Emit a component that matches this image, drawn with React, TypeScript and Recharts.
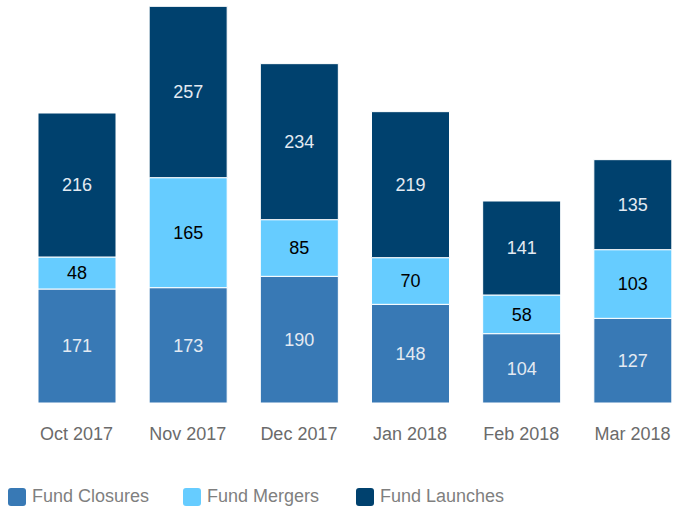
import React from "react";
import { BarChart, Bar, XAxis, YAxis, LabelList, Legend } from "recharts";

const categories = ["Oct 2017", "Nov 2017", "Dec 2017", "Jan 2018", "Feb 2018", "Mar 2018"];
const closures = [171, 173, 190, 148, 104, 127];
const mergers = [48, 165, 85, 70, 58, 103];
const launches = [216, 257, 234, 219, 141, 135];

const seriesNames = ["Fund Closures", "Fund Mergers", "Fund Launches"];
const colors = ["#3879b5", "#66ccff", "#00416e"];

const data = categories.map((c, i) => ({
  name: c,
  closures: closures[i],
  mergers: mergers[i],
  launches: launches[i],
}));

const FONT = "Liberation Sans, Arial, sans-serif";

const renderLegend = () => {
  const lefts = [8, 183, 356];
  return (
    <div style={{ position: "relative", height: 24, width: 675 }}>
      {seriesNames.map((n, i) => (
        <div key={n} style={{ position: "absolute", left: lefts[i], top: 0, display: "flex", alignItems: "center" }}>
          <div style={{ width: 18, height: 18, borderRadius: 3, background: colors[i], marginRight: 6 }} />
          <span style={{ fontFamily: FONT, fontSize: 18, color: "#7f7f7f" }}>{n}</span>
        </div>
      ))}
    </div>
  );
};

export default function App() {
  return (
    <div style={{ position: "absolute", left: 0, top: 0, width: 675, height: 512, overflow: "hidden", background: "#fff" }}>
      <BarChart
        width={690}
        height={512}
        data={data}
        margin={{ top: 3, right: 2, bottom: 55, left: 21 }}
        barSize={78}
      >
        <XAxis
          dataKey="name"
          axisLine={false}
          tickLine={false}
          height={30}
          tick={{ fill: "#6b6b6b", fontSize: 18, fontFamily: FONT }}
          tickMargin={18}
        />
        <YAxis hide domain={[0, 600]} />
        <Legend
          content={renderLegend}
          wrapperStyle={{ position: "absolute", left: 0, top: 486, width: 675 }}
        />
        <Bar dataKey="closures" stackId="a" fill={colors[0]} stroke="#ffffff" strokeWidth={1} isAnimationActive={false}>
          <LabelList dataKey="closures" position="center" fill="#e3eaf2" fontSize={18} fontFamily={FONT} />
        </Bar>
        <Bar dataKey="mergers" stackId="a" fill={colors[1]} stroke="#ffffff" strokeWidth={1} isAnimationActive={false}>
          <LabelList dataKey="mergers" position="center" fill="#000000" fontSize={18} fontFamily={FONT} />
        </Bar>
        <Bar dataKey="launches" stackId="a" fill={colors[2]} stroke="#ffffff" strokeWidth={1} isAnimationActive={false}>
          <LabelList dataKey="launches" position="center" fill="#e3eaf2" fontSize={18} fontFamily={FONT} />
        </Bar>
      </BarChart>
    </div>
  );
}
